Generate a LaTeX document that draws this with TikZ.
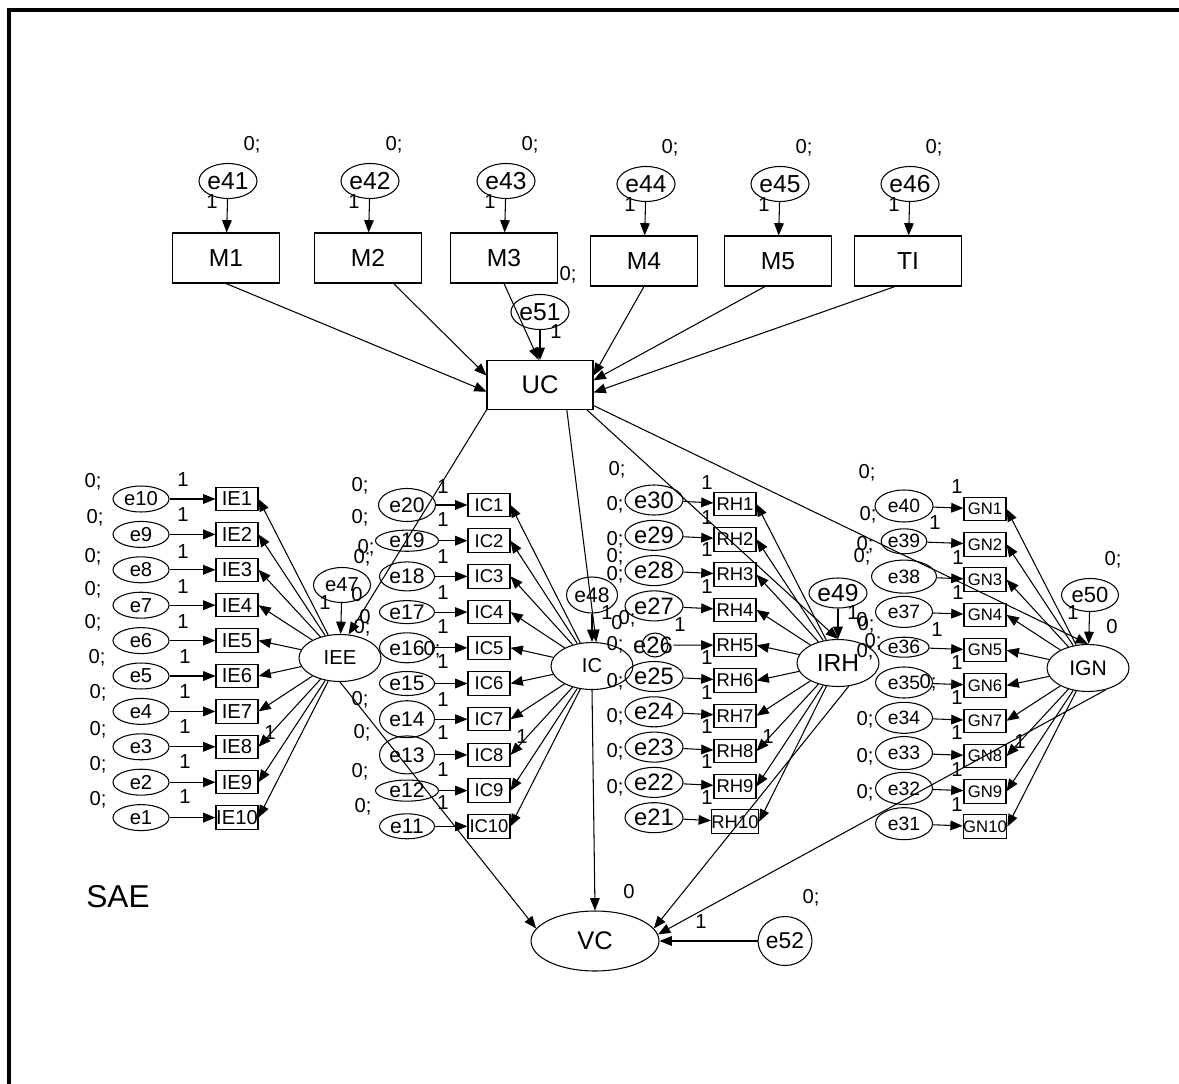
\documentclass[tikz,border=0pt]{standalone}
\usepackage{fontspec}
\setmainfont{Liberation Sans}
\usepackage{tikz}
\usetikzlibrary{shapes.geometric,arrows.meta,positioning}
\newcommand{\fsz}[1]{\fontsize{#1}{#1}\selectfont}

\begin{document}
\begin{tikzpicture}[x=0.02cm, y=-0.02cm, line width=0.6pt,
    every node/.style={inner sep=0pt},
    errnode/.style={ellipse, draw},
    latnode/.style={ellipse, draw, minimum width=1.64cm, minimum height=0.94cm},
    itembox/.style={rectangle, draw, minimum width=0.84cm, minimum height=0.47cm},
    topbox/.style={rectangle, draw, minimum width=2.14cm, minimum height=1cm, font=\fsz{14}},
    lbl/.style={font=\fsz{11.5}},
    arr/.style={-{Triangle[length=7pt,width=5.5pt]}}]

  \useasboundingbox (0,0) rectangle (1179,1084);
  \draw[line width=2.3pt] (9,1084) -- (9,10) -- (1179,10);

  % observed causes and UC
  \foreach \k/\mx/\my/\name in {1/226/258/M1, 2/368/258/M2, 3/504/258/M3, 4/644/261/M4, 5/778/261/M5, 6/908/261/TI} {
    \pgfmathtruncatemacro{\n}{40+\k}
    \node[topbox] (\name) at (\mx,\my) {\name};
    \node[errnode, minimum width=1.16cm, minimum height=0.7cm, font=\fsz{14}] (e\n) at (\mx+2,\my-77) {e\n};
    \node[lbl] (z\n) at (\mx+26,\my-113) {0;};
    \node[lbl] (w\n) at (\mx-14,\my-56) {1};
    \draw[arr] (e\n) -- (\name);
  }
  \node[topbox, minimum width=2.12cm, minimum height=0.98cm, font=\fsz{14.5}] (UC) at (540,385) {UC};
  \node[errnode, minimum width=1.1cm, minimum height=0.7cm, font=\fsz{14}] (e51) at (540,312) {e51};
  \draw[arr] (M1.south) -- (UC.187);
  \draw[arr] (M2.315) -- (UC.170);
  \draw[arr] (M3.south) -- (UC.93);
  \draw[arr] (e51) -- (UC);
  \draw[arr] (M4.south) -- (UC.10);
  \draw[arr] (M5.243) -- (UC.5);
  \draw[arr] (TI.243) -- (UC.352);

  % indicators
  \foreach \k in {1,...,10} {
    \pgfmathtruncatemacro{\n}{11-\k}
    \pgfmathsetmacro{\yy}{499+35.4*(\k-1)}
    \node[itembox, font=\fsz{11.5}] (IE\k) at (237,\yy) {IE\k};
    \node[errnode, minimum width=1.12cm, minimum height=0.52cm, font=\fsz{11.5}] (e\n) at (141,\yy) {e\n};
    \draw[arr] (e\n) -- (IE\k);
  }
  \foreach \k/\w/\h in {1/57/33, 2/63/21, 3/55/29, 4/55/23, 5/55/30, 6/55/24, 7/55/37, 8/55/38, 9/63/20, 10/55/25} {
    \pgfmathtruncatemacro{\n}{21-\k}
    \pgfmathsetmacro{\yy}{505+35.7*(\k-1)}
    \node[itembox, font=\fsz{10.5}] (IC\k) at (489,\yy) {IC\k};
    \node[errnode, minimum width=\w*0.02cm, minimum height=\h*0.02cm, font=\fsz{12}] (e\n) at (407,\yy) {e\n};
    \draw[arr] (e\n) -- (IC\k);
  }
  \foreach \k in {1,...,10} {
    \pgfmathsetmacro{\yy}{504+35.3*(\k-1)}
    \node[itembox, font=\fsz{10.5}] (RH\k) at (735,\yy) {RH\k};
  }
  \foreach \k in {1,2,3,4,6,7,8,9,10} {
    \pgfmathtruncatemacro{\n}{31-\k}
    \pgfmathsetmacro{\yy}{500+35.3*(\k-1)}
    \node[errnode, minimum width=1.16cm, minimum height=0.6cm, font=\fsz{13.5}] (e\n) at (654,\yy) {e\n};
    \draw[arr] (e\n) -- (RH\k);
  }
  \node[font=\fsz{13.5}] (e26) at (653,645) {e26};
  \draw (655,645) ellipse [x radius=0.26cm, y radius=0.24cm];
  \draw[arr] (e26) -- (RH5);
  \foreach \k/\w/\h in {1/58/32, 2/45/25, 3/65/33, 4/57/31, 5/50/20, 6/57/31, 7/57/31, 8/57/33, 9/57/32, 10/57/32} {
    \pgfmathtruncatemacro{\n}{41-\k}
    \pgfmathsetmacro{\yy}{509+35.3*(\k-1)}
    \node[itembox, font=\fsz{9.5}] (GN\k) at (985,\yy) {GN\k};
    \node[errnode, minimum width=\w*0.02cm, minimum height=\h*0.02cm, font=\fsz{11}] (e\n) at (904,\yy-3) {e\n};
    \draw[arr] (e\n) -- (GN\k);
  }

  % latent variables
  \node[latnode, font=\fsz{11.5}] (IEE) at (340,658) {IEE};
  \node[latnode, font=\fsz{11.5}] (IC) at (592,666) {IC};
  \node[latnode, font=\fsz{14}] (IRH) at (838,663) {IRH};
  \node[latnode, font=\fsz{12}] (IGN) at (1088,668) {IGN};
  \node[errnode, minimum width=1.14cm, minimum height=0.7cm, font=\fsz{11.5}] (e47) at (342,585) {e47};
  \node[errnode, minimum width=1.02cm, minimum height=0.72cm, font=\fsz{12}] (e48) at (592,595) {e48};
  \node[errnode, minimum width=1.14cm, minimum height=0.6cm, font=\fsz{14}] (e49) at (838,593) {e49};
  \node[errnode, minimum width=1.14cm, minimum height=0.66cm, font=\fsz{12.5}] (e50) at (1090,595) {e50};
  \node[latnode, minimum width=2.56cm, minimum height=1.2cm, font=\fsz{14.5}] (VC) at (595,941) {VC};
  \node[errnode, minimum width=1.06cm, minimum height=0.98cm, font=\fsz{13}] (e52) at (785,941) {e52};
  \node[font=\fsz{18}] (sae) at (118,897) {SAE};

  \foreach \k in {1,...,10} {
    \draw[arr] (IEE) -- (IE\k.east);
    \draw[arr] (IC) -- (IC\k.east);
    \draw[arr] (IRH) -- (RH\k.east);
    \draw[arr] (IGN) -- (GN\k.east);
  }
  \draw[arr] (e47) -- (IEE);
  \draw[arr] (e48) -- (IC);
  \draw[arr] (e49) -- (IRH);
  \draw[arr] (e50) -- (IGN);
  \draw[arr] (UC.south west) -- (IEE.70);
  \draw[arr] (UC.-43) -- (IC.80);
  \draw[arr] (UC.-28) -- (IRH.north);
  \draw[arr] (UC.-21) -- (IGN.north);
  \draw[arr] (IEE.south) -- (VC.168);
  \draw[arr] (IC.south) -- (VC.north);
  \draw[arr] (IRH.-65) -- (VC.12);
  \draw[arr] (IGN.-50) -- (VC.6);
  \draw[arr] (e52) -- (VC);

  % parameter labels
  \foreach \p [count=\i] in {(556,332),(183,480),(183,515),(183,552),(183,587),(183,622),(185,657),(185,692),(185,727),(185,762),(185,797),(325,603),(270,733),
      (443,487),(443,520),(443,557),(443,593),(443,627),(443,662),(443,700),(443,733),(443,770),(443,803),(522,737),(607,613),
      (707,483),(707,518),(707,550),(707,587),(680,625),(707,658),(707,693),(707,727),(707,762),(707,798),(768,737),(853,613),
      (957,487),(935,523),(958,558),(958,593),(937,630),(957,663),(957,698),(957,733),(957,770),(957,805),(1020,742),(1073,613),(701,922)}
    \node[lbl] (one\i) at \p {1};
  \foreach \p [count=\i] in {(568,275),(93,482),(95,518),(93,557),(93,590),(93,623),(97,658),(98,693),(98,730),(98,765),(98,800),
      (360,486),(360,518),(366,548),(362,558),(362,628),(432,650),(360,700),(362,733),(360,772),(363,807),
      (617,470),(615,505),(615,540),(615,557),(615,575),(627,619),(615,645),(615,682),(615,717),(615,752),(615,788),
      (867,473),(868,515),(865,545),(862,557),(866,625),(873,642),(865,652),(928,683),(865,720),(865,757),(865,793),
      (1113,560),(811,898)}
    \node[lbl] (var\i) at \p {0;};
  \foreach \p [count=\i] in {(357,595),(365,617),(617,623),(862,620),(1112,627),(629,892)}
    \node[lbl] (mean\i) at \p {0};
\end{tikzpicture}
\end{document}
